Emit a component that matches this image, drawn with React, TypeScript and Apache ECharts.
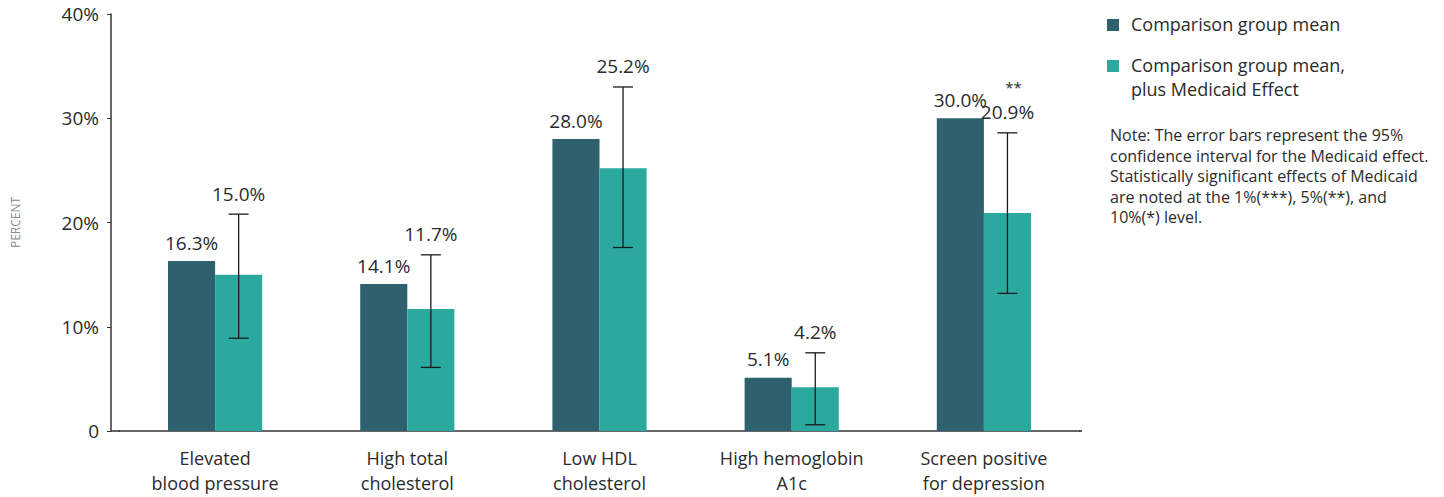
import React, { useEffect, useRef } from "react";
import * as echarts from "echarts";

// Outcome categories (two-line axis labels)
const categories = [
  "Elevated\nblood pressure",
  "High total\ncholesterol",
  "Low HDL\ncholesterol",
  "High hemoglobin\nA1c",
  "Screen positive\nfor depression",
];

// Comparison group mean (%)
const comparisonMean = [16.3, 14.1, 28.0, 5.1, 30.0];
// Comparison group mean plus Medicaid effect (%)
const withMedicaid = [15.0, 11.7, 25.2, 4.2, 20.9];
// 95% confidence interval bounds for the Medicaid effect (%)
const ciLow = [8.9, 6.1, 17.6, 0.6, 13.2];
const ciHigh = [20.8, 16.9, 33.0, 7.5, 28.6];
// Significance markers
const significance = ["", "", "", "", "**"];

const legendNames = ["Comparison group mean", "Comparison group mean,\nplus Medicaid Effect"];
const noteText =
  "Note: The error bars represent the 95%\nconfidence interval for the Medicaid effect.\nStatistically significant effects of Medicaid\nare noted at the 1%(***), 5%(**), and\n10%(*) level.";

const DARK = "#2e616d";
const TEAL = "#2ba99f";
const TEXT = "#2b2b2b";
const FONT = "'Open Sans', 'Noto Sans', sans-serif";
const BAR_FRAC = 0.245;

export default function App() {
  const ref = useRef<HTMLDivElement>(null);

  useEffect(() => {
    document.body.style.margin = "0";
    if (!ref.current) return;
    const chart = echarts.init(ref.current, undefined, { renderer: "svg" });

    const errData = categories.map((_, i) => [i, ciLow[i], ciHigh[i], withMedicaid[i], significance[i]]);

    chart.setOption({
      animation: false,
      textStyle: { fontFamily: FONT },
      grid: { left: 119, top: 14, right: 364, bottom: 66, containLabel: false },
      xAxis: {
        type: "category",
        data: categories,
        axisLine: { lineStyle: { color: "#333", width: 1.5 } },
        axisTick: { show: false },
        axisLabel: { color: TEXT, fontSize: 18, lineHeight: 25, margin: 14, fontFamily: FONT },
      },
      yAxis: {
        type: "value",
        min: 0,
        max: 40,
        interval: 10,
        offset: 8,
        name: "PERCENT",
        nameLocation: "middle",
        nameGap: 90,
        nameRotate: 90,
        nameTextStyle: { color: "#8a8a8a", fontSize: 12, fontFamily: FONT },
        axisLine: { show: true, lineStyle: { color: "#333", width: 1.5 } },
        axisTick: { show: true, length: 4, lineStyle: { color: "#333" } },
        splitLine: { show: false },
        axisLabel: {
          color: TEXT,
          fontSize: 19,
          margin: 12,
          fontFamily: FONT,
          formatter: (v: number) => (v === 0 ? "0" : `${v}%`),
        },
      },
      series: [
        {
          name: legendNames[0],
          type: "bar",
          data: comparisonMean,
          barWidth: `${BAR_FRAC * 100}%`,
          barGap: "0%",
          itemStyle: { color: DARK },
          label: {
            show: true,
            position: "top",
            distance: 9,
            color: TEXT,
            fontSize: 19,
            fontFamily: FONT,
            formatter: (p: any) => `${p.value.toFixed(1)}%`,
          },
        },
        {
          name: legendNames[1],
          type: "bar",
          data: withMedicaid,
          barWidth: `${BAR_FRAC * 100}%`,
          barGap: "0%",
          itemStyle: { color: TEAL },
        },
        {
          type: "custom",
          data: errData,
          encode: { x: 0, y: [1, 2] },
          z: 10,
          renderItem: (params: any, api: any) => {
            const idx = api.value(0);
            const bandW = api.size([1, 0])[0];
            const dx = (bandW * BAR_FRAC) / 2;
            const lo = api.coord([idx, api.value(1)]);
            const hi = api.coord([idx, api.value(2)]);
            const x = lo[0] + dx;
            const cap = 10;
            const ls = { stroke: "#1a1a1a", lineWidth: 1.3 };
            const children: any[] = [
              { type: "line", shape: { x1: x, y1: hi[1], x2: x, y2: lo[1] }, style: ls },
              { type: "line", shape: { x1: x - cap, y1: hi[1], x2: x + cap, y2: hi[1] }, style: ls },
              { type: "line", shape: { x1: x - cap, y1: lo[1], x2: x + cap, y2: lo[1] }, style: ls },
              {
                type: "text",
                x,
                y: hi[1] - 11,
                style: {
                  text: `${Number(api.value(3)).toFixed(1)}%`,
                  fill: TEXT,
                  font: `19px ${FONT}`,
                  align: "center",
                  verticalAlign: "bottom",
                },
              },
            ];
            const stars = errData[params.dataIndex][4] as string;
            if (stars) {
              children.push({
                type: "text",
                x: x + 6,
                y: hi[1] - 38,
                style: {
                  text: stars,
                  fill: TEXT,
                  font: `15px ${FONT}`,
                  align: "center",
                  verticalAlign: "bottom",
                },
              });
            }
            return { type: "group", children };
          },
        },
      ],
      graphic: [
        // x-axis baseline continues to the y-axis and slightly past the last band
        { type: "line", shape: { x1: 111, y1: 431, x2: 120, y2: 431 }, style: { stroke: "#333", lineWidth: 1.5 } },
        { type: "line", shape: { x1: 1079, y1: 431, x2: 1082, y2: 431 }, style: { stroke: "#333", lineWidth: 1.5 } },
        { type: "rect", left: 1107, top: 19, shape: { width: 12, height: 12 }, style: { fill: DARK } },
        {
          type: "text",
          left: 1131,
          top: 12,
          style: { text: legendNames[0], fill: TEXT, font: `18px ${FONT}`, lineHeight: 24 },
        },
        { type: "rect", left: 1107, top: 60, shape: { width: 12, height: 12 }, style: { fill: TEAL } },
        {
          type: "text",
          left: 1131,
          top: 53,
          style: { text: legendNames[1], fill: TEXT, font: `18px ${FONT}`, lineHeight: 24 },
        },
        {
          type: "text",
          left: 1110,
          top: 125,
          style: { text: noteText, fill: TEXT, font: `16px ${FONT}`, lineHeight: 20.5 },
        },
      ],
    });

    return () => chart.dispose();
  }, []);

  return <div ref={ref} style={{ width: 1444, height: 497 }} />;
}
